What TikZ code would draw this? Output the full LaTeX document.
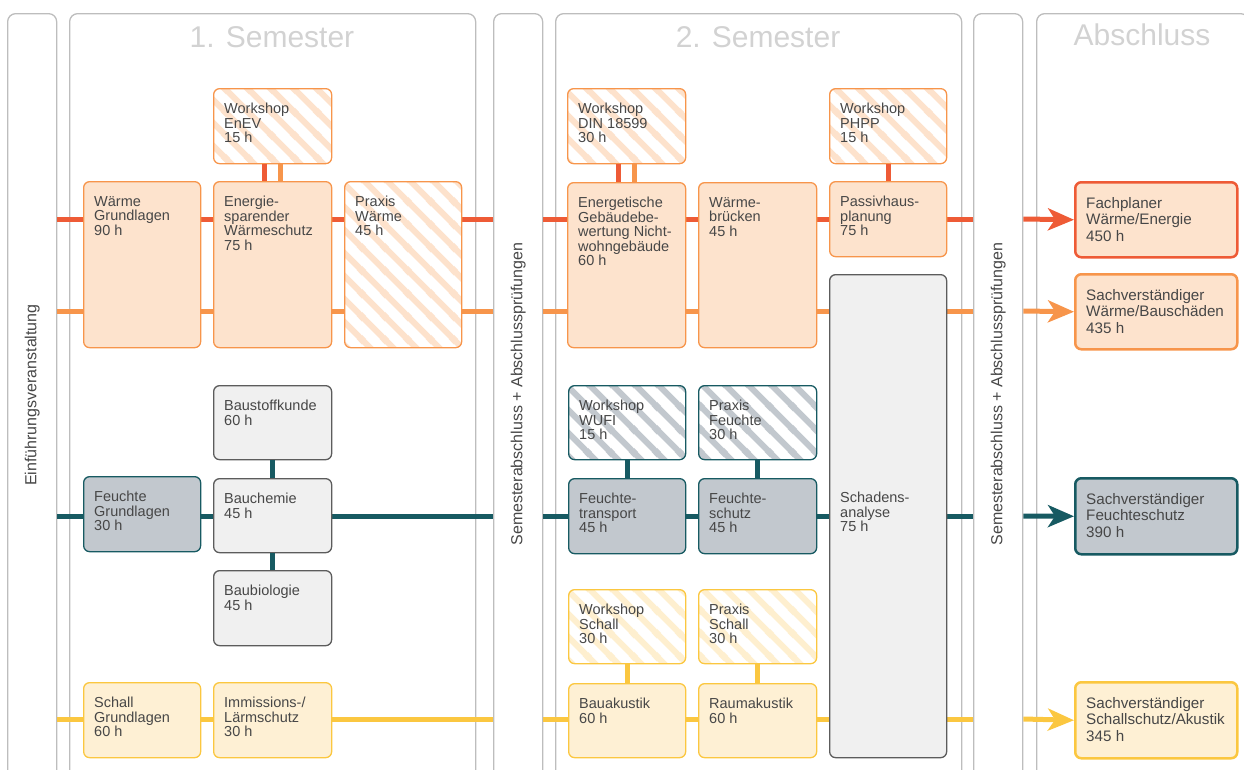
\documentclass[tikz,border=0pt]{standalone}
\usepackage{fontspec}
\setmainfont{Liberation Sans}
\usetikzlibrary{patterns,arrows.meta}

\definecolor{cRed}{HTML}{EE5B36}
\definecolor{cOrange}{HTML}{F7954B}
\definecolor{cTeal}{HTML}{175A62}
\definecolor{cYellow}{HTML}{FBC740}
\definecolor{fPeach}{HTML}{FDE3CD}
\definecolor{fGray}{HTML}{C2C8CE}
\definecolor{fYellow}{HTML}{FEF0D4}
\definecolor{fLight}{HTML}{F0F0F0}
\definecolor{bDark}{HTML}{5C5C5C}
\definecolor{hPeach}{HTML}{FDE2CC}
\definecolor{hYellow}{HTML}{FEEFCF}
\definecolor{cPanel}{HTML}{BDBDBD}
\definecolor{cTitle}{HTML}{D2D2D2}
\definecolor{cText}{HTML}{474747}

% diagonale Streifen, 16pt Abstand
\pgfdeclarepatternformonly{streifen}{\pgfqpoint{0pt}{0pt}}{\pgfqpoint{22.63pt}{22.63pt}}{\pgfqpoint{22.63pt}{22.63pt}}{
  \pgfsetlinewidth{6pt}
  \pgfpathmoveto{\pgfqpoint{-3pt}{25.63pt}}\pgfpathlineto{\pgfqpoint{25.63pt}{-3pt}}
  \pgfpathmoveto{\pgfqpoint{-6pt}{6pt}}\pgfpathlineto{\pgfqpoint{6pt}{-6pt}}
  \pgfpathmoveto{\pgfqpoint{16.63pt}{28.63pt}}\pgfpathlineto{\pgfqpoint{28.63pt}{16.63pt}}
  \pgfusepath{stroke}}

\begin{document}
\begin{tikzpicture}[x=1pt,y=-1pt,
  panel/.style={draw=cPanel,line width=1.3pt,rounded corners=8pt,anchor=north west,inner sep=0pt,minimum height=800pt},
  titel/.style={anchor=base,text=cTitle,font=\fontsize{30}{30}\selectfont},
  senk/.style={rotate=90,text=cText,font=\fontsize{16}{16}\selectfont},
  kurs/.style={rounded corners=6pt,line width=1.3pt,anchor=north west,inner sep=0pt},
  sz/.style 2 args={minimum width=#1pt,minimum height=#2pt},
  txt/.style={anchor=north west,inner sep=0pt,xshift=11pt,yshift=-15pt,align=left,text=cText,font=\fontsize{14.5}{14.5}\selectfont},
  inhalt/.style={label={[txt]north west:{#1}}},
  inhaltA/.style={label={[txt,xshift=1pt,yshift=-1pt,font=\fontsize{15.2}{16.7}\selectfont]north west:{#1}}},
  schraffur/.style={preaction={fill=white},pattern=streifen,pattern color=#1},
  waerme/.style={kurs,draw=cOrange,fill=fPeach},
  feuchte/.style={kurs,draw=cTeal,fill=fGray},
  schall/.style={kurs,draw=cYellow,fill=fYellow},
  basis/.style={kurs,draw=bDark,fill=fLight},
  wshopW/.style={kurs,draw=cOrange,schraffur=hPeach},
  wshopF/.style={kurs,draw=cTeal,schraffur=fGray},
  wshopS/.style={kurs,draw=cYellow,schraffur=hYellow},
  ziel/.style={kurs,line width=2.5pt},
  spur/.style={line width=5pt},
  pfeil/.style={-{Stealth[length=26pt,width=22pt,inset=7pt]}}]
  \useasboundingbox (0,0) rectangle (1244,769);
  \clip (0,0) rectangle (1244,769);

  % Spalten
  \node[panel,minimum width=49pt] (einf) at (7,13) {};
  \node[panel,minimum width=406pt] (sem1) at (69,13) {};
  \node[panel,minimum width=49pt] (sa1) at (493,13) {};
  \node[panel,minimum width=406pt] (sem2) at (555,13) {};
  \node[panel,minimum width=49pt] (sa2) at (973,13) {};
  \node[panel,minimum width=212pt] (absc) at (1036,13) {};
  \node[titel] (t1) at (272,47) {1. Semester};
  \node[titel] (t2) at (758,47) {2. Semester};
  \node[titel] (t3) at (1142,45) {Abschluss};
  \node[senk] (einft) at (einf.center |- 0,395) {Einführungsveranstaltung};
  \node[senk] (sa1t) at (sa1.center |- 0,394) {Semesterabschluss + Abschlussprüfungen};
  \node[senk] (sa2t) at (sa2.center |- 0,394) {Semesterabschluss + Abschlussprüfungen};

  % Abschluesse
  \node[ziel,draw=cRed,fill=fPeach,sz={162}{75},inhaltA={Fachplaner\\Wärme/Energie\\450 h}] (fpw) at (1074,181) {};
  \node[ziel,draw=cOrange,fill=fPeach,sz={162}{75},inhaltA={Sachverständiger\\Wärme/Bauschäden\\435 h}] (svw) at (1074,273) {};
  \node[ziel,draw=cTeal,fill=fGray,sz={162}{76},inhaltA={Sachverständiger\\Feuchteschutz\\390 h}] (svf) at (1074,477) {};
  \node[ziel,draw=cYellow,fill=fYellow,sz={162}{76},inhaltA={Sachverständiger\\Schallschutz/Akustik\\345 h}] (svs) at (1074,681) {};

  % Linien
  \coordinate (yW) at (0,219);
  \coordinate (yB) at (0,311);
  \coordinate (yF) at (0,516);
  \coordinate (yS) at (0,719);
  \foreach \y/\c/\z in {yW/cRed/fpw,yB/cOrange/svw,yF/cTeal/svf,yS/cYellow/svs}{
    \draw[spur,\c] (einf.east |- \y) -- (sa1.west |- \y);
    \draw[spur,\c] (sa1.east |- \y) -- (sa2.west |- \y);
    \draw[spur,\c,pfeil] (sa2.east |- \y) -- (\z.west);
  }

  % 1. Semester
  \node[wshopW,sz={118}{75},inhalt={Workshop\\EnEV\\15 h}] (wenev) at (213,88) {};
  \node[waerme,sz={117}{166},inhalt={Wärme\\Grundlagen\\90 h}] (wgr) at (83,181) {};
  \node[waerme,sz={118}{166},inhalt={Energie-\\sparender\\Wärmeschutz\\75 h}] (esw) at (213,181) {};
  \node[wshopW,sz={117}{166},inhalt={Praxis\\Wärme\\45 h}] (pwa) at (344,181) {};
  \node[basis,sz={118}{74},inhalt={Baustoffkunde\\60 h}] (bsk) at (213,385) {};
  \node[feuchte,sz={117}{75},inhalt={Feuchte\\Grundlagen\\30 h}] (fgr) at (83,476) {};
  \node[basis,sz={118}{74},inhalt={Bauchemie\\45 h}] (bch) at (213,478) {};
  \node[basis,sz={118}{75},inhalt={Baubiologie\\45 h}] (bbi) at (213,570) {};
  \node[schall,sz={117}{75},inhalt={Schall\\Grundlagen\\60 h}] (sgr) at (83,682) {};
  \node[schall,sz={118}{75},inhalt={Immissions-/\\Lärmschutz\\30 h}] (ils) at (213,682) {};

  % 2. Semester
  \node[wshopW,sz={118}{75},inhalt={Workshop\\DIN 18599\\30 h}] (wdin) at (567,88) {};
  \node[wshopW,sz={117}{75},inhalt={Workshop\\PHPP\\15 h}] (wphpp) at (829,88) {};
  \node[waerme,sz={118}{165},inhalt={Energetische\\Gebäudebe-\\wertung Nicht-\\wohngebäude\\60 h}] (egb) at (567,182) {};
  \node[waerme,sz={118}{165},inhalt={Wärme-\\brücken\\45 h}] (wbr) at (698,182) {};
  \node[waerme,sz={117}{75},inhalt={Passivhaus-\\planung\\75 h}] (php) at (829,181) {};
  \node[basis,sz={117}{483},label={[txt,yshift=-203pt]north west:{Schadens-\\analyse\\75 h}}] (san) at (829,274) {};
  \node[wshopF,sz={117}{74},inhalt={Workshop\\WUFI\\15 h}] (wwufi) at (568,385) {};
  \node[wshopF,sz={118}{74},inhalt={Praxis\\Feuchte\\30 h}] (pfe) at (698,385) {};
  \node[feuchte,sz={117}{75},inhalt={Feuchte-\\transport\\45 h}] (ftr) at (568,478) {};
  \node[feuchte,sz={118}{75},inhalt={Feuchte-\\schutz\\45 h}] (fsc) at (698,478) {};
  \node[wshopS,sz={117}{74},inhalt={Workshop\\Schall\\30 h}] (wsch) at (568,589) {};
  \node[wshopS,sz={118}{74},inhalt={Praxis\\Schall\\30 h}] (psch) at (698,589) {};
  \node[schall,sz={117}{74},inhalt={Bauakustik\\60 h}] (bak) at (568,683) {};
  \node[schall,sz={118}{74},inhalt={Raumakustik\\60 h}] (rak) at (698,683) {};

  % Verbindungen
  \draw[spur,cRed] ([xshift=-8pt]wenev.south) -- ([xshift=-8pt]esw.north);
  \draw[spur,cOrange] ([xshift=8pt]wenev.south) -- ([xshift=8pt]esw.north);
  \draw[spur,cRed] ([xshift=-8pt]wdin.south) -- ([xshift=-8pt]egb.north);
  \draw[spur,cOrange] ([xshift=8pt]wdin.south) -- ([xshift=8pt]egb.north);
  \draw[spur,cRed] (wphpp) -- (php);
  \draw[spur,cTeal] (bsk) -- (bch);
  \draw[spur,cTeal] (bch) -- (bbi);
  \draw[spur,cTeal] (wwufi) -- (ftr);
  \draw[spur,cTeal] (pfe) -- (fsc);
  \draw[spur,cYellow] (wsch) -- (bak);
  \draw[spur,cYellow] (psch) -- (rak);
\end{tikzpicture}
\end{document}
